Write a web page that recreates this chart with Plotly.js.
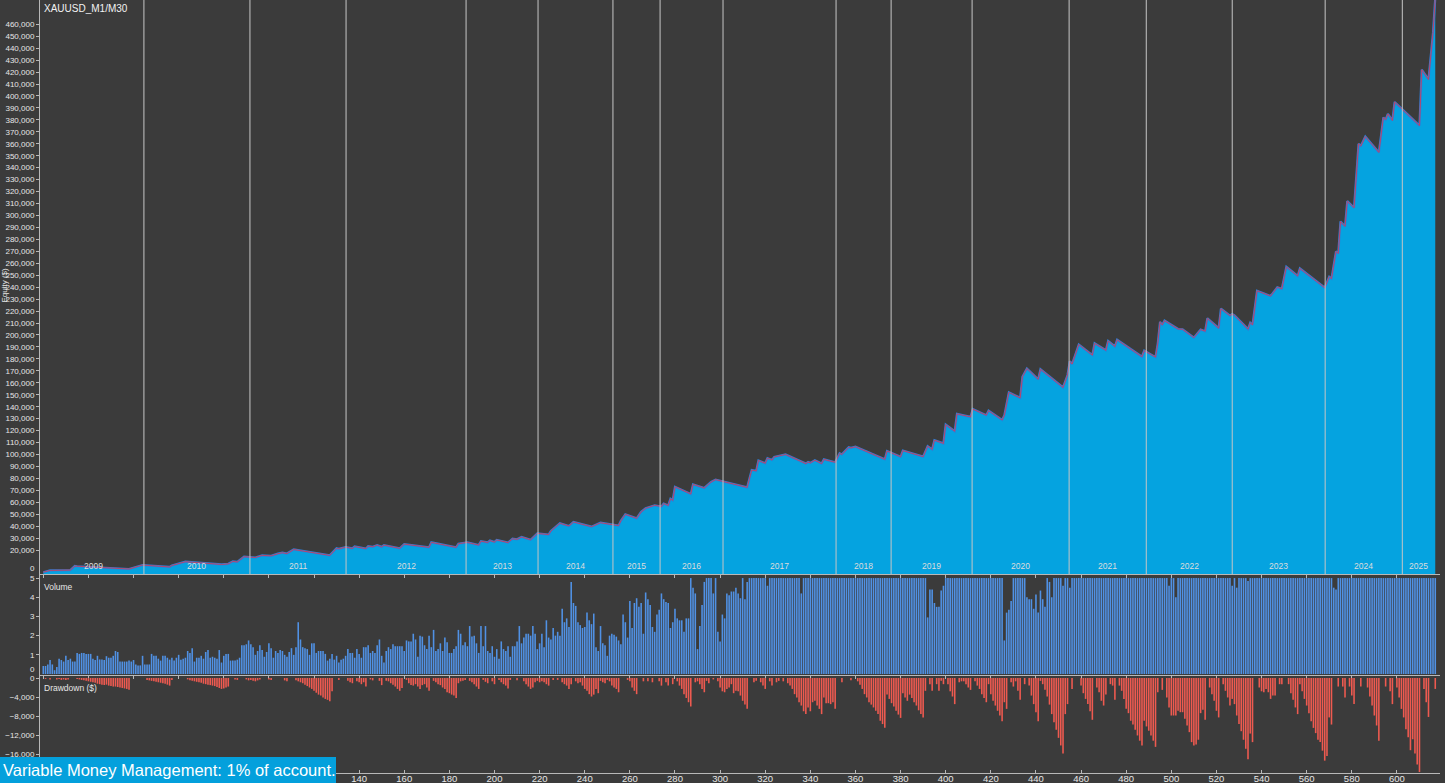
<!DOCTYPE html>
<html><head><meta charset="utf-8">
<script src="https://cdn.plot.ly/plotly-3.0.1.min.js"></script>
<style>html,body{margin:0;padding:0;background:#3b3b3b;overflow:hidden}#chart{width:1445px;height:783px}</style>
</head><body><div id="chart"></div>
<script>
// ---- equity curve vertices (trade number, equity $) ----
const eqTrade = [0,3,12,14,15,38,44,45,56,57,58,63,79,82,84,86,89,94,97,101,104,106,108,111,127,128,130,131,134,137,138,143,144,146,148,150,151,158,160,171,172,183,184,188,193,194,197,198,200,201,206,208,210,212,216,219,224,225,229,233,235,243,247,255,256,258,263,265,267,271,274,275,277,278,279,280,287,288,293,296,298,312,314,316,317,320,321,323,324,329,338,339,340,342,345,346,351,353,354,357,358,360,373,374,380,381,390,392,394,395,399,400,404,405,411,412,418,419,425,426,428,433,434,436,441,442,452,454,455,456,459,465,466,471,472,475,476,487,488,493,494,495,496,497,503,505,510,513,515,516,521,522,526,527,528,534,535,536,538,544,547,549,551,556,557,568,570,571,573,574,575,577,578,581,583,584,586,592,594,595,596,598,599,610,611,614,616,617];
const eqValue = [1500,3000,3300,6700,6500,4200,7500,7400,5900,7100,7600,10300,8000,8500,10500,10100,14500,13800,15600,15200,17000,17800,17100,20500,15600,17700,21500,21100,22500,21400,23000,21200,23300,22800,24200,22700,24200,21500,25000,22300,26500,22300,25400,26500,24200,27500,26400,28000,26700,28500,26300,29500,29000,31000,28700,34000,33000,36000,42500,40200,43500,39600,42900,40500,44500,50000,46600,52000,55000,57500,56500,59000,57400,63000,61700,73000,67000,75000,72000,77000,79000,72500,87000,86300,95000,92700,97000,95400,98000,100000,92400,93800,93000,95200,92400,95900,93500,101000,100100,106000,105500,106500,96000,103000,98100,103300,98200,107000,104300,112000,109300,125000,119500,134000,131500,138000,132900,136700,128900,132900,152000,147400,165000,172000,162900,171400,156100,166500,178000,175700,192000,183200,193000,187200,195000,190400,196000,181800,187000,181500,193000,211000,208500,212000,205000,204800,197800,204600,203200,214000,205700,222000,216200,217600,216500,204900,210300,208500,237000,232600,240000,238700,257000,249400,255700,239600,248700,247200,270000,268200,295000,290900,312000,306500,360000,358200,366000,352800,382000,380200,385000,379500,395000,375200,422000,413800,453000,482000];

// ---- per-trade lot volume ----
const volume = [
0.42,0.42,0.5,0.73,0.5,0.2,0.37,0.8,0.73,0.65,
0.95,0.73,0.8,0.65,0.65,1.1,1.05,1.1,1.1,1.05,
1.05,1.05,0.8,0.73,0.95,0.76,0.76,0.73,0.93,0.85,
0.85,0.95,1.2,1.15,0.65,0.65,0.65,0.65,0.7,0.65,
0.73,0.5,0.45,0.45,0.95,0.5,0.5,0.5,1.05,0.95,
0.95,0.8,0.7,0.95,0.95,0.85,0.75,0.85,0.7,0.85,
1.0,0.75,0.8,0.85,1.2,1.1,1.35,0.65,0.85,0.85,
0.95,0.8,1.15,1.25,0.85,0.9,0.85,0.8,1.25,0.6,
0.95,1.05,1.05,0.7,0.7,0.7,0.75,0.85,1.5,1.5,
1.55,1.75,1.55,1.4,1.0,1.2,1.5,1.25,0.9,1.15,
1.6,1.35,0.85,1.2,1.1,1.25,1.2,1.0,0.9,1.15,
1.35,1.0,1.4,2.7,1.8,1.4,1.35,1.3,1.0,1.6,
1.6,1.1,1.2,
1.2,1.2,1.05,0.7,0.8,1.05,0.75,0.95,0.6,0.75,
0.8,0.95,1.3,1.1,1.1,0.85,1.3,1.05,0.85,1.4,
1.4,1.5,1.1,1.2,1.1,1.5,1.8,0.95,0.6,1.2,
1.4,1.3,1.55,1.45,1.45,1.45,1.45,1.2,1.75,1.7,
1.7,2.1,1.8,0.9,2.0,1.95,1.5,1.3,2.0,1.4,
2.3,1.2,1.3,1.6,1.2,1.9,1.65,1.1,1.1,1.3,
1.45,2.3,2.1,1.5,1.65,1.45,2.5,1.95,2.0,1.6,
1.1,2.5,1.45,2.5,1.2,1.1,1.45,0.9,1.3,0.8,
1.7,1.3,1.2,1.45,0.9,1.45,1.45,1.7,2.5,1.6,
1.9,2.1,2.1,2.0,2.5,2.1,1.3,1.6,2.1,1.4,
2.8,1.9,1.8,2.4,2.0,2.2,2.0,3.4,2.7,2.9,
2.45,4.8,3.7,3.55,2.7,2.55,2.4,2.45,3.2,2.8,
2.6,3.15,1.4,1.2,
2.5,1.6,1.5,0.95,2.0,2.1,2.05,1.95,1.75,1.55,
3.1,2.7,1.9,3.8,2.4,3.7,3.95,3.5,3.7,2.1,
4.25,3.9,3.6,2.45,2.2,3.1,3.35,4.2,3.9,3.75,
3.7,2.4,2.7,3.4,2.9,2.8,2.8,2.2,2.9,2.9,
5,4.5,4.2,1.3,2.5,3.6,4.8,5,5,5,
4.2,5,2.2,1.7,3.1,2.9,4.2,4.1,4.3,4.3,
4.5,4.2,3.95,5,3.9,4.8,
5,5,5,5,5,5,5,5,4.6,5,
5,5,5,5,5,5,5,5,5,5,
5,5,5,4.2,5,5,5,5,5,5,
5,5,5,5,5,5,5,5,5,5,
5,5,5,5,5,5,5,5,5,5,
5,5,5,5,5,5,5,
5,5,5,5,5,5,5,5,5,5,
5,5,5,5,5,5,5,5,5,5,
5,5,2.95,4.4,4.4,3.7,3.5,3.5,4.35,4.6,
5,5,5,5,5,5,5,5,5,5,
5,5,5,5,5,5,5,5,5,5,
5,5,5,5,5,5,1.75,3.2,3.35,3.8,
5,5,5,5,5,5,4.0,3.9,3.9,3.4,
4.15,3.2,4.35,3.9,3.5,5,4.8,4.0,5,5,
5,5,4.6,5,5,4.5,5,5,5,5,
5,5,5,5,5,5,5,5,5,5,
5,5,5,5,5,5,5,5,5,5,
5,5,5,5,5,5,5,5,5,5,
5,5,5,5,5,5,5,5,5,4.6,
5,5,4.0,5,5,5,5,5,5,5,
5,5,5,5,5,5,5,5,5,5,
5,5,5,5,5,5,5,4.6,5,4.5,
5,5,5,5,4.85,5,5,5,5,5,
5,5,5,5,5,5,5,5,5,5,
5,5,5,5,5,5,5,5,5,5,
5,5,5,5,5,5,5,5,5,5,
5,5,4.5,4.4,5,5,5,5,5,5,
5,5,5,5,5,5,5,5,5,5,
5,5,5,5,5,5,5,5,5,5,
5,5,5,5,5,5,5,5,5,5,
5,5,5,5,5,5,5,5
];

// ---- per-trade drawdown ($) ----
const drawdown = [
0,-200,0,-300,0,0,-300,-200,-400,-300,
-400,-300,0,0,0,-200,-300,-400,-500,-600,
-700,-800,-900,-1000,-1200,-1300,-1400,-1500,-1400,-1600,
-1700,-1800,-1800,-1900,-2000,-2100,-2200,-2300,-2500,0,
0,0,0,0,0,0,-400,-500,-600,-700,
-800,-900,-1000,-1100,-1200,-1400,-1600,-400,0,0,
0,0,0,0,-300,-500,-600,-700,-800,-900,
-1000,-1200,-1300,-1400,-1500,-1600,-1700,-1900,-2100,-2300,
-2200,-2000,-1800,0,0,-300,-400,0,0,0,
-300,-500,-400,-600,-700,-500,-300,0,0,0,
-300,-400,0,0,0,0,0,-500,-700,0,
0,0,-500,-700,-900,-1100,-1400,-1700,-2000,-2300,
-2700,-3100,-3500,-3700,-4100,-4400,-4600,-4900,-2800,0,
0,-400,0,0,0,-600,-900,-1100,0,-700,
-900,-1300,-900,-1800,0,-300,-500,0,0,-600,
-1500,0,-600,-700,-1100,-1400,-1800,-2300,-2700,-2100,
0,-400,-1100,-1500,-1600,-1300,-1800,-2300,-1500,-1300,
-2000,-2700,0,-600,-900,-1300,-1500,-2000,-2300,-3000,
-3200,-3500,-3700,-4200,-1100,-700,-600,-400,0,-600,
-900,-1300,-1800,-2300,0,-400,-800,-1100,0,-700,
-1300,0,-400,-900,-1300,-1600,-2200,-400,0,0,
-500,0,0,-700,-1300,-1800,-2300,-2000,-900,-600,
-900,-700,-900,-1300,-1600,0,-400,0,-400,0,
-900,-1300,-1600,-2300,-1300,0,-700,-1100,-900,-1600,
-2300,-2700,-3400,-3900,-3500,-2300,-3200,-600,-900,-1100,
-400,-700,-1600,-2000,-2300,-3000,0,0,0,-400,
-700,-2000,-2700,-3400,0,0,-700,0,-700,0,
-900,0,0,-700,-1600,0,-900,-1600,0,-1300,
0,-700,-1600,-2300,-3400,-4200,-5100,-6000,0,-900,
-700,-1300,-2300,-3000,-600,-1100,0,-300,0,-700,
-2000,-2800,-3000,-2300,-2000,-1300,-3200,-2700,-2800,-3700,
-4800,-5600,-6500,0,0,-900,-600,0,-900,-1600,
-2300,0,-700,-1600,0,-900,-600,0,-700,0,
-1100,-1600,-2300,-3400,-4100,-5100,-5800,-7000,-7600,-6200,
-7000,-5100,-4800,-5800,-6500,-7600,-4100,-5300,-5300,-5500,
-5100,-6500,0,0,-900,0,0,0,-500,0,
0,-700,-1400,-2300,-3400,-4100,-5100,-5600,-6200,-6900,
-7600,-9000,-9700,-10500,-3500,-4400,-5300,-6000,-6900,-7700,
-8400,-3200,-4100,-4800,-3500,-4200,-5100,-5800,-6800,-7600,
-8300,-2700,0,-1300,-2700,0,-1300,-2700,-600,-1300,
0,-1300,-2800,-3900,-5500,0,-900,-700,-700,-1300,
-2000,-2500,0,-700,-1600,-2300,-3400,-4200,-5100,-1300,
-3400,-4800,-5800,-6900,-7900,-9100,-5100,-6500,0,-900,
-1800,-700,-2700,-4600,0,-1300,0,-1600,-3700,-5500,
-7200,-9100,-600,-1300,-2500,-3900,-5600,-7600,-9300,-10900,
-12600,-14200,-15900,-7600,-5500,0,-2300,0,0,0,
-1600,-3200,-4400,-5500,-7000,-8800,0,-2000,-3000,-4800,
-5800,-3500,0,-1300,-1600,-4600,0,-1600,-2700,-4400,
-6500,-7400,-9000,-9800,-10900,-12100,-13200,-14200,-9000,-10200,
-11100,-12100,-13200,-14500,-3000,0,-2500,0,-4100,-6200,
-7900,-7900,-7900,-6900,-7200,-7200,-8600,-10000,-11400,-13500,
-14200,-14000,-13000,-7400,-6700,-8800,0,-2000,-3400,-4800,
-6900,-8300,0,-1300,-2700,-4100,-5800,-4400,-5500,-7900,
-9700,-11200,-13000,-14900,-17100,-11700,-13500,0,0,-2000,
-2800,-3000,-2300,-3000,-4400,-3700,-3700,0,-1300,-1300,
0,0,-1300,-3200,-4600,-6200,-7600,-1300,-2800,-4400,
-5800,-7400,-9100,-10500,-11600,-13000,-13500,-15300,-17400,-16400,
-8300,-9800,0,0,-1800,0,-1800,-4100,0,-1800,
-3700,-5500,0,0,-1800,0,0,-2000,-3900,-5800,
-7900,-10000,-13200,0,0,-1800,0,-2800,-5500,0,
-2000,-4100,-6500,-8300,-10800,-12500,-15200,-12900,-15900,-18200,
-19800,0,-2300,-5100,-8200,0,0,-2300
];

// ---- year separators (trade number where each new year starts) ----
const yearNames = ['2009','2010','2011','2012','2013','2014','2015','2016','2017','2018','2019','2020','2021','2022','2023','2024','2025'];
const yearBounds = [44.6,91.6,134.2,187.4,219.3,252.5,273.4,301.3,351.4,375.8,411.7,454.7,488.9,527,568.2,602.4];

const equityTicks = [20000,30000,40000,50000,60000,70000,80000,90000,100000,110000,120000,130000,140000,150000,160000,170000,180000,190000,200000,210000,220000,230000,240000,250000,260000,270000,280000,290000,300000,310000,320000,330000,340000,350000,360000,370000,380000,390000,400000,410000,420000,430000,440000,450000,460000];
const volumeTicks = [1,2,3,4,5];
const drawdownTicks = [0,-4000,-8000,-12000,-16000];
const tradeTicks = [140,160,180,200,220,240,260,280,300,320,340,360,380,400,420,440,460,480,500,520,540,560,580,600];

const trades = volume.map((v,i)=>i);
const lastTrade = trades.length - 1;

const FONT = "'Liberation Sans',Arial,sans-serif";
const TXT = '#e6e6e6';
const AX = '#b8b8b8';
const H = 773; // plot-area height in px (t=0,b=10)
const py = p => (H - p) / H;       // pixel row -> paper y
const px = p => (p - 40) / 1400;   // pixel col -> paper x

const traces = [
  {x:eqTrade, y:eqValue, type:'scatter', mode:'lines', fill:'tozeroy', fillcolor:'#05a3e0',
   line:{color:'#2f7fd6', width:2.2}, xaxis:'x', yaxis:'y', hoverinfo:'skip'},
  {x:eqTrade, y:eqValue, type:'scatter', mode:'lines',
   line:{color:'#c8405e', width:0.9}, xaxis:'x', yaxis:'y', hoverinfo:'skip'},
  {x:trades, y:volume, type:'bar', marker:{color:'#5091e4'}, xaxis:'x2', yaxis:'y2'},
  {x:trades, y:drawdown, type:'bar', marker:{color:'#ee5a50'}, xaxis:'x3', yaxis:'y3'}
];

const xBase = {range:[-1.46,619.1], showgrid:false, zeroline:false, showline:true, linecolor:AX, linewidth:1,
  ticks:'outside', ticklen:3, tickcolor:AX, tick0:0, dtick:20, showticklabels:false,
  tickfont:{family:FONT, size:9.5, color:TXT}};
const yBase = {showgrid:false, zeroline:false, showline:true, linecolor:AX, linewidth:1,
  ticks:'outside', ticklen:3, tickcolor:AX, tickfont:{family:FONT, size:8, color:TXT}, tickmode:'array'};

const shapes = yearBounds.map(b => ({type:'line', xref:'x', yref:'y domain', x0:b, x1:b, y0:0, y1:1,
  line:{color:'#c6c6c6', width:1}, layer:'above'}));
shapes.push({type:'rect', xref:'paper', yref:'paper', x0:px(0), x1:px(336), y0:py(784), y1:py(757),
  fillcolor:'#04a0dc', line:{width:0}, layer:'above'});

const edges = [0].concat(yearBounds).concat([lastTrade]);
const annotations = yearNames.map((n,i)=>({text:n, xref:'x', yref:'paper', x:(edges[i]+edges[i+1])/2, y:py(566),
  showarrow:false, font:{family:FONT, size:8.5, color:'#dcdcdc'}, xanchor:'center', yanchor:'middle'}));
annotations.push(
  {text:'XAUUSD_M1/M30', xref:'paper', yref:'paper', x:px(42), y:py(8), xanchor:'left', yanchor:'middle', showarrow:false,
   font:{family:FONT, size:10, color:'#f2f2f2'}},
  {text:'Equity ($)', xref:'paper', yref:'paper', x:px(3.5), y:py(285), textangle:-90, showarrow:false,
   xanchor:'center', yanchor:'middle', font:{family:FONT, size:8, color:TXT}},
  {text:'Volume', xref:'paper', yref:'paper', x:px(42), y:py(587), xanchor:'left', yanchor:'middle', showarrow:false,
   font:{family:FONT, size:8.5, color:TXT}},
  {text:'Drawdown ($)', xref:'paper', yref:'paper', x:px(42), y:py(688), xanchor:'left', yanchor:'middle', showarrow:false,
   font:{family:FONT, size:8.5, color:TXT}},
  {text:'0', xref:'paper', yref:'paper', x:px(37), y:py(568), xanchor:'right', yanchor:'middle', showarrow:false,
   font:{family:FONT, size:8, color:TXT}},
  {text:'0', xref:'paper', yref:'paper', x:px(37), y:py(669), xanchor:'right', yanchor:'middle', showarrow:false,
   font:{family:FONT, size:8, color:TXT}},
  {text:'Variable Money Management: 1% of account.', xref:'paper', yref:'paper', x:px(1), y:py(770),
   xanchor:'left', yanchor:'middle', showarrow:false, font:{family:FONT, size:16.5, color:'#ffffff'}}
);

const layout = {
  width:1445, height:783, margin:{l:40, r:5, t:0, b:10},
  paper_bgcolor:'#3b3b3b', plot_bgcolor:'#3b3b3b', showlegend:false, bargap:0.3,
  xaxis: Object.assign({}, xBase, {anchor:'y'}),
  xaxis2: Object.assign({}, xBase, {anchor:'y2', matches:'x'}),
  xaxis3: Object.assign({}, xBase, {anchor:'y3', matches:'x', showticklabels:true, ticks:'inside',
    tickmode:'array', tickvals:tradeTicks, ticklabelstandoff:-3}),
  yaxis: Object.assign({}, yBase, {domain:[py(574),1], range:[0,480300], tickvals:equityTicks, tickformat:',d'}),
  yaxis2: Object.assign({}, yBase, {domain:[py(675),py(575)], range:[-0.05,5.16], tickvals:volumeTicks}),
  yaxis3: Object.assign({}, yBase, {domain:[0,py(676)], range:[-20000,420], tickvals:drawdownTicks, tickformat:',d'}),
  shapes:shapes, annotations:annotations
};

Plotly.newPlot('chart', traces, layout, {staticPlot:true, displayModeBar:false});
</script></body></html>
